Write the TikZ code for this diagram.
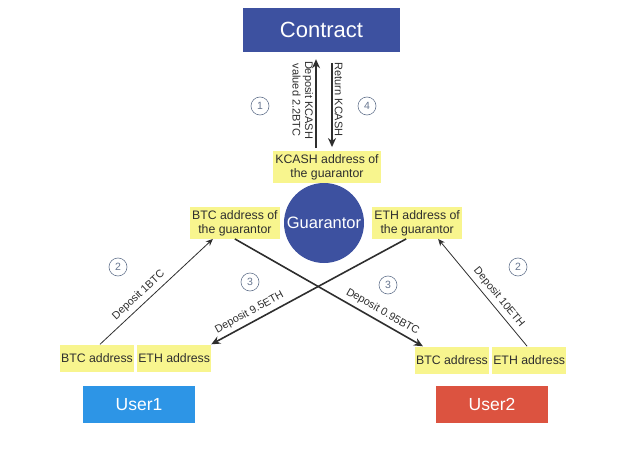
\documentclass[tikz,border=0pt]{standalone}
\usepackage{fontspec}
\setmainfont{Liberation Sans}
\usetikzlibrary{positioning,arrows.meta}
\definecolor{navy}{HTML}{3D51A0}
\definecolor{skyblue}{HTML}{2D95E6}
\definecolor{brick}{HTML}{DC5340}
\definecolor{hilite}{HTML}{F8F58E}
\definecolor{ink}{HTML}{2E2E2E}
\definecolor{numgray}{HTML}{66758F}

\begin{document}
\begin{tikzpicture}[x=1pt, y=1pt,
  every node/.style={inner sep=0pt, text=ink},
  addr/.style={fill=hilite, inner xsep=2pt, inner ysep=3pt, align=center, font=\fontsize{12.3}{14}\selectfont},
  slot/.style={addr, minimum height=27pt, inner xsep=1pt},
  box/.style={minimum width=112pt, minimum height=37pt, text=white, font=\fontsize{17.5}{20}\selectfont},
  num/.style={circle, draw=numgray, line width=0.6pt, minimum size=18pt, text=numgray, font=\fontsize{10.5}{12}\selectfont},
  flow/.style={draw=ink, line width=0.8pt, -{Stealth[length=7pt,width=6pt]}},
  heavy/.style={flow, line width=1.6pt, -{Stealth[length=9pt,width=8pt]}},
  tag/.style={font=\fontsize{10.8}{12}\selectfont, sloped, above=4pt},
  vtag/.style={font=\fontsize{11}{12.5}\selectfont, rotate=-90, align=center, inner sep=2pt}]
\useasboundingbox (0,0) rectangle (640,459);
% 1. contract on top, guarantor in the middle
\node[box, fill=navy, minimum width=157pt, minimum height=44pt, font=\fontsize{22}{25}\selectfont] (contract) at (321.5,429) {Contract};
\node[circle, fill=navy, minimum size=80pt, text=white, font=\fontsize{16.5}{19}\selectfont] (guarantor) at (324,236) {Guarantor};
\node[addr] (kcash) at (327,292) {KCASH address of\\the guarantor};
\node[addr, left=4pt of guarantor] (btcg) {BTC address of\\the guarantor};
\node[addr, right=8pt of guarantor] (ethg) {ETH address of\\the guarantor};
% 2. the two users and their addresses
\node[slot] (lbtc) at (97,101) {BTC address};
\node[slot, right=3pt of lbtc] (leth) {ETH address};
\node[slot] (rbtc) at (452,99) {BTC address};
\node[slot, right=3pt of rbtc] (reth) {ETH address};
\node[box, fill=skyblue] (user1) at (139,54.5) {User1};
\node[box, fill=brick] (user2) at (492,54.5) {User2};
% 3. KCASH in and out of the contract
\coordinate (upfoot) at ([xshift=-11pt,yshift=3pt]kcash.north);
\coordinate (downfoot) at ([xshift=5pt,yshift=4pt]kcash.north);
\draw[heavy, shorten >=7pt] (upfoot) -- (upfoot |- contract.south)
  node[midway, vtag, anchor=north] {Deposit KCASH\\valued 2.2BTC};
\draw[heavy, shorten <=11pt] (downfoot |- contract.south) -- (downfoot)
  node[midway, vtag, anchor=south] {Return KCASH};
% 4. deposits between users and guarantor
\draw[flow] ([xshift=3pt]lbtc.north) -- ([xshift=-22pt]btcg.south) node[tag, pos=0.4] {Deposit 1BTC};
\draw[flow] ([xshift=-2pt]reth.north) -- ([xshift=21pt]ethg.south) node[tag, pos=0.4] {Deposit 10ETH};
\draw[heavy] (btcg.south) -- ([xshift=8pt]rbtc.north west) node[tag, pos=0.76] {Deposit 0.95BTC};
\draw[heavy] ([xshift=-11pt]ethg.south) -- (leth.north east) node[tag, pos=0.78] {Deposit 9.5ETH};
% step numbers
\node[num] (n1) at (260,353) {1};
\node[num] (n4) at (367,353) {4};
\node[num] (n2l) at (118,192) {2};
\node[num] (n2r) at (518,192) {2};
\node[num] (n3l) at (250,177) {3};
\node[num] (n3r) at (388,174) {3};
\end{tikzpicture}
\end{document}
